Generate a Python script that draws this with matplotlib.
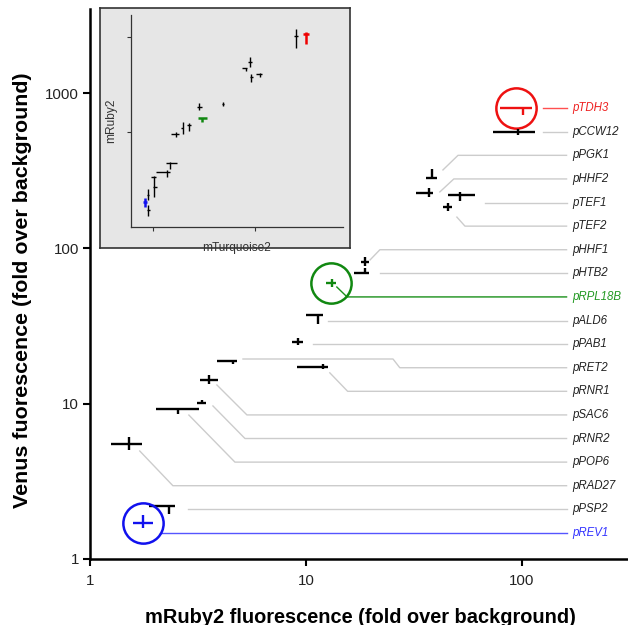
import numpy as np
import matplotlib
matplotlib.use("Agg")
import matplotlib.pyplot as plt

plt.rcParams['font.family'] = ['Liberation Sans', 'DejaVu Sans']

# promoter names, top to bottom in the label column
names = ['pTDH3', 'pCCW12', 'pPGK1', 'pHHF2', 'pTEF1', 'pTEF2', 'pHHF1', 'pHTB2',
         'pRPL18B', 'pALD6', 'pPAB1', 'pRET2', 'pRNR1', 'pSAC6', 'pRNR2', 'pPOP6',
         'pRAD27', 'pPSP2', 'pREV1']

# mRuby2 (x) and Venus (y) fold over background, with error ranges
ruby = [101, 95.8, 38.3, 37.1, 51.6, 45.4, 18.8, 18.8, 13.2, 11.4, 9.18, 4.59,
        12.0, 3.55, 3.30, 2.55, 1.52, 2.32, 1.76]
ruby_lo = [79, 73.4, 35.9, 32.3, 45.4, 43.1, 18.0, 16.7, 12.4, 10.0, 8.61, 3.87,
           9.08, 3.23, 3.13, 2.02, 1.25, 1.88, 1.58]
ruby_hi = [111, 115, 40.4, 38.7, 60.6, 47.4, 19.6, 19.6, 13.8, 12.0, 9.68, 4.79,
           12.6, 3.91, 3.44, 3.20, 1.74, 2.47, 1.96]
venus = [800, 560, 283, 226, 220, 184, 81.2, 69.0, 59.5, 37.5, 25.1, 18.9,
         17.3, 14.3, 10.1, 9.29, 5.52, 2.20, 1.71]
venus_lo = [721, 536, 283, 213, 201, 173, 76.5, 69.0, 56.0, 32.8, 24.0, 18.1,
            16.8, 13.3, 10.1, 8.62, 5.05, 1.95, 1.58]
venus_hi = [800, 586, 323, 244, 230, 195, 87.5, 74.3, 63.1, 37.5, 26.3, 18.9,
            18.1, 15.2, 10.6, 9.29, 6.12, 2.20, 1.92]

highlight = {'pTDH3': '#ee1111', 'pRPL18B': '#118811', 'pREV1': '#1111ee'}
label_col = {'pTDH3': '#ee2222', 'pRPL18B': '#229922', 'pREV1': '#3333ff'}
leader_col = {'pTDH3': '#ff5050', 'pRPL18B': '#1a901a', 'pREV1': '#5555ff'}

# leader lines: start point, x where the flat start ends, x where it meets the label row
lead_x0 = [125, 125, 43.1, 41.7, 67.4, 50.0, 19.8, 22.0, 13.9, 12.6, 10.8, 5.11,
           12.9, 3.87, 3.71, 2.87, 1.70, 2.84, 2.11]
lead_y0 = [None, None, 320, 231, None, 159, 84.2, None, 56.4, None, None, 19.4,
           15.8, 13.2, 9.67, 8.45, 4.96, None, None]
lead_xf = [None, None, None, None, None, None, None, None, None, None, None, 25.3,
           None, None, None, None, None, None, None]
lead_xk = [125, 125, 50.6, 48.4, 67.4, 54.5, 22.0, 22.0, 15.5, 12.6, 10.8, 27.2,
           15.6, 5.33, 5.22, 4.69, 2.42, 2.84, 2.11]

# inset: mTurquoise2 vs mRuby2
turq = [31.6, 25.2, 8.93, 8.16, 9.14, 11.2, 4.86, 2.83, 3.02, 2.25, 1.97, 1.68,
        1.47, 1.37, 1.02, 0.978, 0.893, 0.835, 0.893]
turq_lo = [29.6, 24.1, 8.53, 7.45, 8.93, 10.2, 4.74, 2.70, 2.76, 2.15, 1.88, 1.50,
           1.34, 1.07, 1.0, 0.956, 0.873, 0.798, 0.873]
turq_hi = [33.8, 26.4, 9.35, 8.35, 9.57, 11.7, 4.97, 3.02, 3.38, 2.36, 1.97, 1.80,
           1.72, 1.47, 1.09, 1.07, 0.914, 0.873, 0.935]
iruby = [10.7, 10.2, 5.45, 4.71, 3.79, 4.08, 1.97, 1.83, 1.40, 1.18, 1.10, 0.953,
         0.472, 0.379, 0.264, 0.336, 0.217, 0.183, 0.151]
iruby_lo = [8.43, 7.66, 4.83, 4.39, 3.36, 3.79, 1.88, 1.70, 1.27, 1.02, 0.953, 0.886,
            0.408, 0.336, 0.207, 0.336, 0.192, 0.163, 0.131]
iruby_hi = [11.3, 12.1, 6.15, 4.71, 4.08, 4.18, 2.07, 2.02, 1.40, 1.24, 1.27, 1.0,
            0.483, 0.398, 0.344, 0.336, 0.251, 0.202, 0.171]
inset_col = ['#ee0000'] + ['black'] * 7 + ['#118811'] + ['black'] * 8 + ['#1111ee', 'black']

fig = plt.figure(figsize=(6.28, 6.25), dpi=100)
ax = fig.add_axes([0.1433, 0.1056, 0.8567, 0.88])
ax.set_xscale('log')
ax.set_yscale('log')
ax.set_xlim(1, 310)
ax.set_ylim(1, 3478)

label_y = np.logspace(2.903, 0.168, len(names))
x_end, x_text = 161, 172

for i, n in enumerate(names):
    c = highlight.get(n, 'black')
    ax.errorbar([ruby[i]], [venus[i]],
                xerr=[[ruby[i] - ruby_lo[i]], [ruby_hi[i] - ruby[i]]],
                yerr=[[venus[i] - venus_lo[i]], [venus_hi[i] - venus[i]]],
                fmt='none', ecolor=c, elinewidth=1.7, capsize=0)
    ly = label_y[i]
    y0 = lead_y0[i] if lead_y0[i] is not None else ly
    xf = lead_xf[i] if lead_xf[i] is not None else lead_x0[i]
    px = [lead_x0[i], xf, lead_xk[i], x_end]
    py = [y0, y0, ly, ly]
    ax.plot(px, py, color=leader_col.get(n, '#cccccc'), lw=1.0, zorder=1)
    ax.text(x_text, ly, n, fontsize=8.3, style='italic', va='center', ha='left',
            color=label_col.get(n, '#222222'))
    if n in highlight:
        ax.plot([np.sqrt(ruby_lo[i] * ruby_hi[i])], [venus[i]], 'o', ms=29,
                mfc='none', mec=c, mew=1.8)

ax.set_xticks([1, 10, 100])
ax.set_xticklabels(['1', '10', '100'])
ax.set_yticks([1, 10, 100, 1000])
ax.set_yticklabels(['1', '10', '100', '1000'])
ax.minorticks_off()
ax.tick_params(direction='out', length=5, width=1.5, labelsize=10.8, colors='black',
               labelcolor='#222222')
ax.tick_params(axis='x', pad=6)
ax.tick_params(axis='y', pad=3)
for s in ['top', 'right']:
    ax.spines[s].set_visible(False)
for s in ['left', 'bottom']:
    ax.spines[s].set_linewidth(1.8)
ax.set_xlabel('mRuby2 fluorescence (fold over background)', fontsize=14.4,
              fontweight='bold')
ax.set_ylabel('Venus fuorescence (fold over background)', fontsize=15.4,
              fontweight='bold')
ax.xaxis.set_label_coords(0.502, -0.089)
ax.yaxis.set_label_coords(-0.108, 0.489)

# inset frame
frame = fig.add_axes([0.1592, 0.6032, 0.3981, 0.384])
frame.set_facecolor('#e6e6e6')
frame.set_xticks([])
frame.set_yticks([])
for s in frame.spines.values():
    s.set_edgecolor('#333333')
    s.set_linewidth(1.2)

ins = fig.add_axes([0.2086, 0.6368, 0.3376, 0.3392])
ins.patch.set_alpha(0)
ins.set_xscale('log')
ins.set_yscale('log')
ins.set_xlim(0.608, 73.0)
ins.set_ylim(0.1, 17.0)
for i in range(len(turq)):
    ins.errorbar([turq[i]], [iruby[i]],
                 xerr=[[turq[i] - turq_lo[i]], [turq_hi[i] - turq[i]]],
                 yerr=[[iruby[i] - iruby_lo[i]], [iruby_hi[i] - iruby[i]]],
                 fmt='none', ecolor=inset_col[i],
                 elinewidth=1.0 if inset_col[i] == 'black' else 1.8, capsize=0)
ins.set_xticks([1, 10])
ins.set_yticks([1, 10])
ins.set_xticklabels([])
ins.set_yticklabels([])
ins.minorticks_off()
ins.tick_params(direction='out', length=3, width=0.8, colors='#333333')
for s in ['top', 'right']:
    ins.spines[s].set_visible(False)
for s in ['left', 'bottom']:
    ins.spines[s].set_linewidth(0.9)
    ins.spines[s].set_color('#333333')
ins.set_xlabel('mTurquoise2', fontsize=8.6, color='#333333')
ins.set_ylabel('mRuby2', fontsize=8.6, color='#333333')
ins.xaxis.set_label_coords(0.5, -0.071)
ins.yaxis.set_label_coords(-0.066, 0.5)

fig.savefig('out.png', dpi=100)
